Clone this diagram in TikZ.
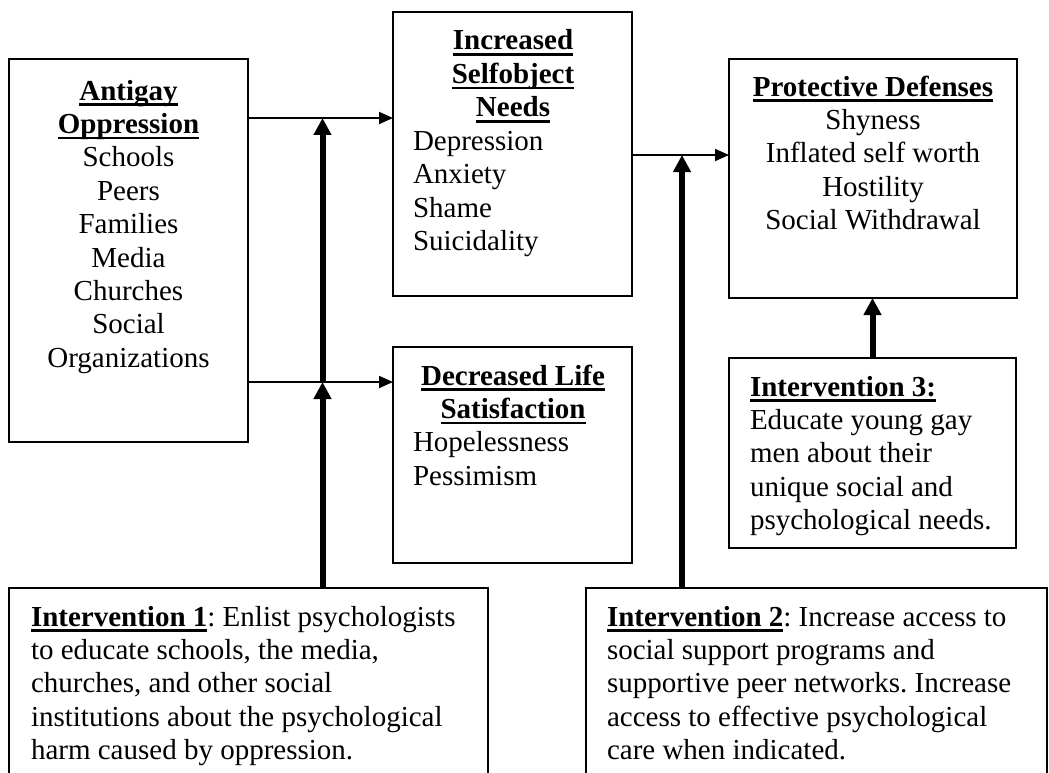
\documentclass[tikz,border=0pt]{standalone}
\usepackage{fontspec}
\setmainfont{Liberation Serif}
\usetikzlibrary{arrows.meta}
\newsavebox{\hdbox}
\newcommand{\hd}[1]{\sbox{\hdbox}{\textbf{#1}}\rlap{\rule[-6pt]{\wd\hdbox}{2.8pt}}\usebox{\hdbox}}
\newcommand{\fr}{\rule{0pt}{22pt}}
\tikzset{
  box/.style={draw, line width=1.8pt, anchor=north west, inner sep=0pt, outer sep=0pt},
  openbox/.style={inner sep=0pt, outer sep=0pt, anchor=north west},
  txt/.style={inner sep=0pt, outer sep=0pt, font=\fontsize{29}{33.4}\selectfont\frenchspacing},
  thinarrow/.style={line width=1.8pt, -{Triangle[length=14pt,width=12pt]}},
  thickarrow/.style={line width=6pt, -{Triangle[length=17pt,width=17pt]}},
}
\begin{document}
\begin{tikzpicture}[x=1pt,y=-1pt]
\path[fill=white, use as bounding box] (0,0) rectangle (1049,773);

% boxes
\node[box, minimum width=239pt, minimum height=383pt] (A) at (9,59) {};
\node[box, minimum width=239pt, minimum height=284pt] (B) at (393,12) {};
\node[box, minimum width=288pt, minimum height=239pt] (C) at (729,59) {};
\node[box, minimum width=239pt, minimum height=216pt] (D) at (393,347) {};
\node[box, minimum width=287pt, minimum height=190pt] (E) at (729,358) {};
\node[openbox, minimum width=479pt, minimum height=192pt] (F) at (9,588) {};
\node[openbox, minimum width=461pt, minimum height=192pt] (G) at (586,588) {};
\draw[line width=1.8pt] (F.south west) -- (F.north west) -- (F.north east) -- (F.south east);
\draw[line width=1.8pt] (G.south west) -- (G.north west) -- (G.north east) -- (G.south east);

% texts
\node[txt, align=center, anchor=north] (At) at (128.5,78)
  {\fr\hd{Antigay}\\\hd{Oppression}\\Schools\\Peers\\Families\\Media\\Churches\\Social\\Organizations};
\node[txt, align=center, anchor=north] (Bt) at (513,28)
  {\fr\hd{Increased}\\\hd{Selfobject}\\\hd{Needs}};
\node[txt, align=left, anchor=north west] (Bi) at (413,128.2)
  {\fr Depression\\Anxiety\\Shame\\Suicidality};
\node[txt, align=center, anchor=north] (Ct) at (873,74)
  {\fr\hd{Protective Defenses}\\Shyness\\Inflated self worth\\Hostility\\Social Withdrawal};
\node[txt, align=center, anchor=north] (Dt) at (513,363)
  {\fr\hd{Decreased Life}\\\hd{Satisfaction}};
\node[txt, align=left, anchor=north west] (Di) at (413,429.8)
  {\fr Hopelessness\\Pessimism};
\node[txt, align=left, anchor=north west] (Et) at (750,374)
  {\fr\hd{Intervention 3:}\\Educate young gay\\men about their\\unique social and\\psychological needs.};
\node[txt, align=left, anchor=north west] (Ft) at (31,604)
  {\fr\hd{Intervention 1}: Enlist psychologists\\to educate schools, the media,\\churches, and other social\\institutions about the psychological\\harm caused by oppression.};
\node[txt, align=left, anchor=north west] (Gt) at (607,604)
  {\fr\hd{Intervention 2}: Increase access to\\social support programs and\\supportive peer networks. Increase\\access to effective psychological\\care when indicated.};

% junctions
\coordinate (j1) at (322.5,118);
\coordinate (j2) at (322.5,382);
\coordinate (j3) at (682,155);

% intervention arrows
\draw[thickarrow] (j1 |- F.north) -- (j2);
\draw[thickarrow] (j2) -- (j1);
\draw[thickarrow] (j3 |- G.north) -- (j3);
\draw[thickarrow] (E.north) -- (E.north |- C.south);

% flow arrows
\draw[thinarrow] (A.east |- j1) -- (B.west |- j1);
\draw[thinarrow] (A.east |- j2) -- (D.west |- j2);
\draw[thinarrow] (B.east |- j3) -- (C.west |- j3);
\end{tikzpicture}
\end{document}
